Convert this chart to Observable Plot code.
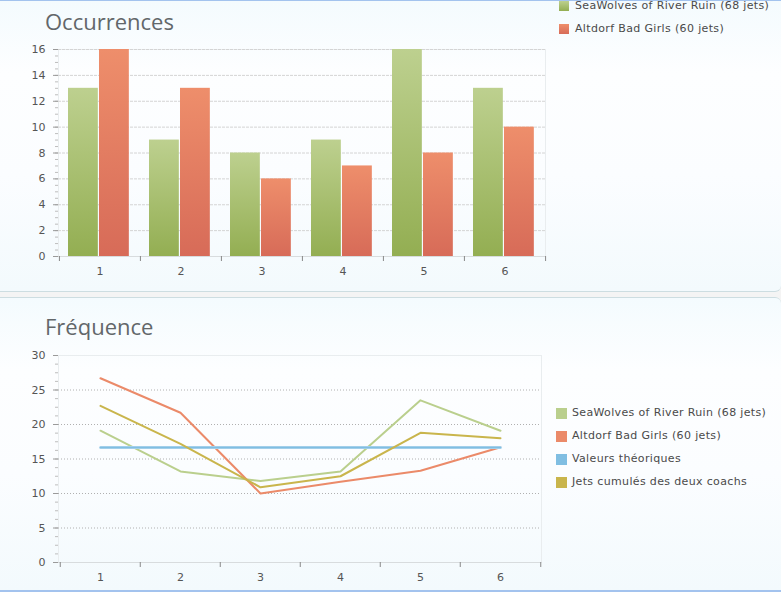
<!DOCTYPE html>
<html>
<head>
<meta charset="utf-8">
<script src="https://cdn.jsdelivr.net/npm/d3@7"></script>
<script src="https://cdn.jsdelivr.net/npm/@observablehq/plot@0.6"></script>
<style>
  body { margin:0; width:781px; height:592px; overflow:hidden; position:relative; background:#f4f4f4; font-family:"DejaVu Sans", Verdana, sans-serif; }
  .panel { position:absolute; left:0; width:781px; box-sizing:border-box;
    background:linear-gradient(to bottom, #f4fbfe 0%, #fdfeff 25%, #fbfdff 60%, #f3fafd 100%); }
  #p1 { top:0; height:292px; border-top:1px solid #a3c3ee; border-bottom:1px solid #cddde1; border-bottom-right-radius:6px; }
  #p2 { top:297px; height:295px; border-top:1px solid #cddde1; border-bottom:2px solid #a3c3ee; border-top-right-radius:6px; }
  .title { position:absolute; left:45px; font-family:"Open Sans", sans-serif; font-size:22px; line-height:22px; color:#62676a; white-space:nowrap; }
  .chart { position:absolute; left:0; }
  .item { position:absolute; font-size:11px; line-height:12px; letter-spacing:0.35px; color:#4a4a4a; white-space:nowrap; }
  .sw { position:absolute; }
</style>
</head>
<body>
<svg width="0" height="0" style="position:absolute">
  <defs>
    <linearGradient id="gGreen" x1="0" y1="0" x2="0" y2="1">
      <stop offset="0" stop-color="#bdd08f"/><stop offset="1" stop-color="#93ae52"/>
    </linearGradient>
    <linearGradient id="gOrange" x1="0" y1="0" x2="0" y2="1">
      <stop offset="0" stop-color="#ee8e6b"/><stop offset="1" stop-color="#d76b58"/>
    </linearGradient>
  </defs>
</svg>
<div class="panel" id="p1"></div>
<div class="panel" id="p2"></div>
<div class="title" style="top:10px">Occurrences</div>
<div class="title" style="top:315px">Fréquence</div>
<div id="c1" class="chart" style="top:0px"></div>
<div id="c2" class="chart" style="top:298px"></div>
<div id="leg1"></div>
<div id="leg2"></div>
<script>
// ---- data ----
const categories = ["1", "2", "3", "4", "5", "6"];
const seaWolvesCounts = [13, 9, 8, 9, 16, 13];
const altdorfCounts = [16, 13, 6, 7, 8, 10];
const seaWolvesFreq = [19.1, 13.2, 11.8, 13.2, 23.5, 19.1];
const altdorfFreq = [26.7, 21.7, 10.0, 11.7, 13.3, 16.7];
const theoreticalFreq = [16.67, 16.67, 16.67, 16.67, 16.67, 16.67];
const combinedFreq = [22.7, 17.2, 10.9, 12.5, 18.8, 18.0];
const occTicks = [0, 2, 4, 6, 8, 10, 12, 14, 16];
const freqTicks = [0, 5, 10, 15, 20, 25, 30];
const seriesNames = ["SeaWolves of River Ruin (68 jets)", "Altdorf Bad Girls (60 jets)", "Valeurs théoriques", "Jets cumulés des deux coachs"];
const seriesColors = ["#bacf8d", "#eb8a69", "#80bee2", "#c9b54c"];

const occData = categories.map((c, i) => ({cat: c, sea: seaWolvesCounts[i], alt: altdorfCounts[i]}));
const toRows = arr => categories.map((c, i) => ({cat: c, v: arr[i]}));

const styleBase = {background: "transparent", fontFamily: "'DejaVu Sans', Verdana, sans-serif", fontSize: "11px", color: "#555", overflow: "visible"};

// ---- top chart ----
{
  const W = 560, ML = 58, MR = 15;
  const bw = (W - ML - MR) / categories.length;
  const minor = d3.range(0, 16.001, 0.5);
  const chart = Plot.plot({
    width: W, height: 290, marginLeft: ML, marginRight: MR, marginTop: 49, marginBottom: 34,
    style: styleBase,
    x: {type: "band", domain: categories, padding: 0, label: null, axis: null},
    y: {domain: [0, 16], label: null, axis: null},
    marks: [
      Plot.frame({stroke: "#e9edef"}),
      Plot.gridY({ticks: occTicks.filter(t => t > 0), stroke: "#d4d4d4", strokeOpacity: 1, strokeDasharray: "3,1"}),
      Plot.barY(occData, {x: "cat", y: "sea", fill: "url(#gGreen)", insetLeft: 9, insetRight: bw - 39}),
      Plot.barY(occData, {x: "cat", y: "alt", fill: "url(#gOrange)", insetLeft: 40, insetRight: bw - 70}),
      Plot.ruleY([0], {stroke: "#d8dcde"}),
      Plot.axisY({ticks: minor, tickSize: 3, tickFormat: () => "", stroke: "#bdbdbd", label: null}),
      Plot.axisY({ticks: occTicks, tickSize: 5, tickPadding: 8, stroke: "#9a9a9a", fill: "#555", label: null}),
      Plot.axisX({tickSize: 0, tickPadding: 11, fill: "#555", label: null}),
      Plot.axisX({tickSize: 5, tickFormat: () => "", dx: -bw / 2, stroke: "#888", label: null}),
      Plot.axisX({ticks: [categories[categories.length - 1]], tickSize: 5, tickFormat: () => "", dx: bw / 2, stroke: "#888", label: null})
    ]
  });
  document.getElementById("c1").appendChild(chart);
}

// ---- bottom chart ----
{
  const W = 556, ML = 58, MR = 15;
  const bw = (W - ML - MR) / categories.length;
  const minor = d3.range(0, 30.001, 1.25);
  const chart = Plot.plot({
    width: W, height: 294, marginLeft: ML, marginRight: MR, marginTop: 57, marginBottom: 30,
    style: styleBase,
    x: {type: "band", domain: categories, padding: 0, label: null, axis: null},
    y: {domain: [0, 30], label: null, axis: null},
    marks: [
      Plot.frame({stroke: "#e9edef"}),
      Plot.gridY({ticks: freqTicks.filter(t => t > 0 && t < 30), stroke: "#b0b0b0", strokeOpacity: 1, strokeDasharray: "1,2"}),
      Plot.ruleY([0], {stroke: "#d8dcde"}),
      Plot.lineY(toRows(seaWolvesFreq), {x: "cat", y: "v", stroke: seriesColors[0], strokeWidth: 2}),
      Plot.lineY(toRows(altdorfFreq), {x: "cat", y: "v", stroke: seriesColors[1], strokeWidth: 2}),
      Plot.lineY(toRows(theoreticalFreq), {x: "cat", y: "v", stroke: "#c4e1f2", strokeWidth: 3}),
      Plot.lineY(toRows(theoreticalFreq), {x: "cat", y: "v", stroke: seriesColors[2], strokeWidth: 1.8}),
      Plot.lineY(toRows(combinedFreq), {x: "cat", y: "v", stroke: seriesColors[3], strokeWidth: 2}),
      Plot.axisY({ticks: minor, tickSize: 3, tickFormat: () => "", stroke: "#bdbdbd", label: null}),
      Plot.axisY({ticks: freqTicks, tickSize: 5, tickPadding: 8, stroke: "#9a9a9a", fill: "#555", label: null}),
      Plot.axisX({tickSize: 0, tickPadding: 11, fill: "#555", label: null}),
      Plot.axisX({tickSize: 5, tickFormat: () => "", dx: -bw / 2, stroke: "#888", label: null}),
      Plot.axisX({ticks: [categories[categories.length - 1]], tickSize: 5, tickFormat: () => "", dx: bw / 2, stroke: "#888", label: null})
    ]
  });
  document.getElementById("c2").appendChild(chart);
}

// ---- legends ----
function legend(el, names, fills, x0, xText, top0, step, sqTopOff, sq) {
  names.forEach((n, i) => {
    const s = document.createElement("div");
    s.className = "sw";
    s.style.cssText = `left:${x0}px;top:${top0 + i * step + sqTopOff}px;width:${sq}px;height:${sq}px;background:${fills[i]}`;
    el.appendChild(s);
    const t = document.createElement("div");
    t.className = "item";
    t.style.cssText = `left:${xText}px;top:${top0 + i * step}px`;
    t.textContent = n;
    el.appendChild(t);
  });
}
legend(document.getElementById("leg1"), seriesNames.slice(0, 2),
  ["linear-gradient(#bdd08f,#93ae52)", "linear-gradient(#ee8e6b,#d76b58)"], 559, 575, 0, 23, 1, 10);
legend(document.getElementById("leg2"), seriesNames, seriesColors, 556, 572, 407, 23, 1, 11);
</script>
</body>
</html>
